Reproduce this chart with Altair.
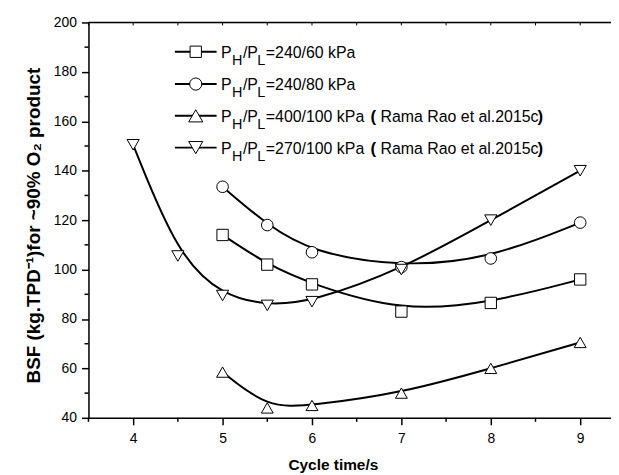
import altair as alt
import pandas as pd

# ---- data ----
series_names = ["240/60", "240/80", "400/100", "270/100"]
x_sq = [5, 5.5, 6, 7, 8, 9]
y_sq = [114, 102, 94, 83, 86.5, 96]
x_ci = [5, 5.5, 6, 7, 8, 9]
y_ci = [133.5, 118, 107, 101, 104.5, 119]
x_tu = [5, 5.5, 6, 7, 8, 9]
y_tu = [58.5, 44, 45, 50, 60, 70.5]
x_td = [4, 4.5, 5, 5.5, 6, 7, 8, 9]
y_td = [150.5, 105.5, 89.5, 85.5, 87, 100, 120, 140]
shapes = ["square", "circle", "triangle-up", "triangle-down"]
marker_sizes = [130, 150, 200, 200]
legend_main = ["=240/60 kPa", "=240/80 kPa", "=400/100 kPa", "=270/100 kPa"]
legend_ref = ["", "", "Rama Rao et al.2015c", "Rama Rao et al.2015c"]
x_major = [4, 5, 6, 7, 8, 9]
x_minor = [3.5, 4.5, 5.5, 6.5, 7.5, 8.5]
y_major = [40, 60, 80, 100, 120, 140, 160, 180, 200]
y_minor = [50, 70, 90, 110, 130, 150, 170, 190]

FONT = "Liberation Sans"
W, H = 526, 398
XDOM = [3.5, 3.5 + W / 90.0]

rows = []
for name, xs_, ys_ in zip(series_names, [x_sq, x_ci, x_tu, x_td], [y_sq, y_ci, y_tu, y_td]):
    for a, b in zip(xs_, ys_):
        rows.append({"series": name, "x": a, "y": b})
df = pd.DataFrame(rows)

xs = alt.Scale(domain=XDOM, nice=False, zero=False)
ys = alt.Scale(domain=[40, 200], nice=False, zero=False)

xax = alt.Axis(values=x_major, format="d", tickSize=7, labelFontSize=14, labelFont=FONT, labelPadding=7,
               domainColor="black", tickColor="black", labelColor="black", grid=False,
               title="Cycle time/s", titleFont=FONT, titleFontSize=15.5, titleFontWeight="bold",
               titleX=246, titleY=47, titleBaseline="middle", titleAnchor="middle",
               domainWidth=1.5, tickWidth=1.5)
yax = alt.Axis(values=y_major, format="d", tickSize=7, labelFontSize=14, labelFont=FONT, labelPadding=5,
               domainColor="black", tickColor="black", labelColor="black", grid=False,
               title="BSF (kg.TPD⁻¹)for ~90% O₂ product", titleFont=FONT, titleFontSize=19,
               titleFontWeight="bold", titleX=-55, titleY=204, titleAngle=270,
               titleBaseline="middle", titleAnchor="middle", domainWidth=1.5, tickWidth=1.5)

lines = alt.Chart(df).mark_line(interpolate="basis", color="black", strokeWidth=2).encode(
    x=alt.X("x:Q", scale=xs, axis=xax),
    y=alt.Y("y:Q", scale=ys, axis=yax),
    detail="series:N",
)
points = alt.Chart(df).mark_point(filled=True, fill="white", stroke="black", strokeWidth=1,
                                  opacity=1).encode(
    x=alt.X("x:Q", scale=xs),
    y=alt.Y("y:Q", scale=ys),
    shape=alt.Shape("series:N", scale=alt.Scale(domain=series_names, range=shapes), legend=None),
    size=alt.Size("series:N", scale=alt.Scale(domain=series_names, range=marker_sizes), legend=None),
)

xminor_df = pd.DataFrame({"x": x_minor})
xminor = alt.Chart(xminor_df).mark_rule(color="black", strokeWidth=1.5, clip=False).encode(
    x=alt.X("x:Q", scale=xs), y=alt.value(H), y2=alt.value(H + 4))
yminor_df = pd.DataFrame({"y": y_minor})
yminor = alt.Chart(yminor_df).mark_rule(color="black", strokeWidth=1.5, clip=False).encode(
    y=alt.Y("y:Q", scale=ys), x=alt.value(0), x2=alt.value(-4))
xtop_df = pd.DataFrame({"x": x_major + x_minor})
xtop = alt.Chart(xtop_df).mark_rule(color="black", strokeWidth=1).encode(
    x=alt.X("x:Q", scale=xs), y=alt.value(0), y2=alt.value(3))
one = pd.DataFrame({"a": [0]})
topline = alt.Chart(one).mark_rule(color="black", strokeWidth=1.5).encode(
    x=alt.value(0), x2=alt.value(W), y=alt.value(0))

layers = [lines, points, xminor, yminor, xtop, topline]

# ---- custom legend ----
LFS = 16
SFS = 14.5
row_y = [29.5, 62, 94, 126]
for i in range(4):
    yy = row_y[i]
    layers.append(alt.Chart(one).mark_rule(color="black", strokeWidth=2).encode(
        x=alt.value(87), x2=alt.value(129), y=alt.value(yy)))
    layers.append(alt.Chart(one).mark_point(shape=shapes[i], filled=True, fill="white",
                                            stroke="black", strokeWidth=1, size=marker_sizes[i],
                                            opacity=1).encode(
        x=alt.value(108), y=alt.value(yy)))
    segs = [("P", 133.5, 0, LFS), ("H", 144.5, 7, SFS), ("/P", 155.5, 0, LFS),
            ("L", 170, 7, SFS), (legend_main[i], 178.5, 0, LFS)]
    for txt, xx, dy, fs in segs:
        layers.append(alt.Chart(one).mark_text(text=txt, font=FONT, fontSize=fs, align="left",
                                               baseline="alphabetic", color="black").encode(
            x=alt.value(xx), y=alt.value(yy + 6 + dy)))
    if legend_ref[i]:
        layers.append(alt.Chart(one).mark_text(text="(", font=FONT, fontSize=17, fontWeight="bold",
                                               align="left", baseline="alphabetic", color="black").encode(
            x=alt.value(284), y=alt.value(yy + 6.5)))
        layers.append(alt.Chart(one).mark_text(text=legend_ref[i], font=FONT, fontSize=LFS,
                                               align="left", baseline="alphabetic", color="black").encode(
            x=alt.value(294), y=alt.value(yy + 6)))
        layers.append(alt.Chart(one).mark_text(text=")", font=FONT, fontSize=17, fontWeight="bold",
                                               align="left", baseline="alphabetic", color="black").encode(
            x=alt.value(452), y=alt.value(yy + 6.5)))

chart = alt.layer(*layers).properties(
    width=W, height=H,
    autosize=alt.AutoSizeParams(type="none"),
    padding={"left": 81, "top": 13, "right": 0, "bottom": 56},
).configure_view(stroke=None).configure(background="white")

chart.save("out.html", embed_options={"renderer": "svg", "actions": False})
